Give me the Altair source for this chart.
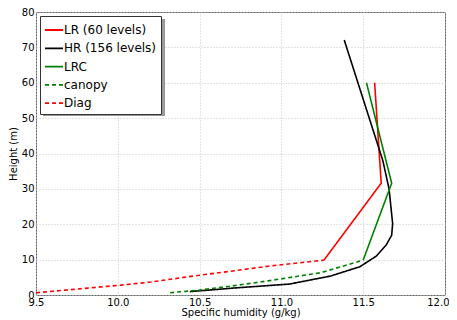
import altair as alt
import pandas as pd

series_names = ["LR (60 levels)", "HR (156 levels)", "LRC", "canopy", "Diag"]
series_colors = ["#ff0000", "#000000", "#008000", "#008000", "#ff0000"]
series_dash = [[1, 0], [1, 0], [1, 0], [4, 3], [4, 3]]

lr_q = [11.57, 11.61, 11.26]
lr_z = [60.0, 31.6, 9.86]

hr_q = [10.44, 10.69, 10.93, 11.05, 11.30, 11.48, 11.58, 11.64, 11.674, 11.68, 11.658, 11.62, 11.384]
hr_z = [0.95, 1.9, 2.7, 3.1, 5.35, 8.0, 11.0, 14.1, 16.9, 20.2, 30.0, 38.0, 72.1]

lrc_q = [11.52, 11.674, 11.50]
lrc_z = [60.0, 31.6, 9.86]

canopy_q = [10.32, 10.50, 10.69, 10.92, 11.24, 11.50]
canopy_z = [0.65, 1.4, 2.5, 4.0, 6.3, 9.86]

diag_q = [9.50, 10.0, 10.20, 10.50, 10.67, 10.93, 11.26]
diag_z = [0.65, 2.7, 3.66, 5.6, 6.6, 8.2, 9.86]

x_ticks = [9.5, 10.0, 10.5, 11.0, 11.5, 12.0]
y_ticks = [0, 10, 20, 30, 40, 50, 60, 70, 80]

rows = []
for name, qs, zs in [
    (series_names[0], lr_q, lr_z),
    (series_names[1], hr_q, hr_z),
    (series_names[2], lrc_q, lrc_z),
    (series_names[3], canopy_q, canopy_z),
    (series_names[4], diag_q, diag_z),
]:
    for i, (q, z) in enumerate(zip(qs, zs)):
        rows.append({"series": name, "q": q, "z": z, "i": i})
df = pd.DataFrame(rows)

FONT = "DejaVu Sans"

legend_kw = dict(title=None, orient="none", legendX=4, legendY=4)

lines = alt.Chart(df).mark_line(strokeWidth=1.6, clip=True).encode(
    x=alt.X("q:Q", scale=alt.Scale(domain=[9.5, 12.0], nice=False),
            axis=alt.Axis(title="Specific humidity (g/kg)", values=x_ticks, format=".1f",
                          labelFlush=False,
                          labelAlign={"condition": {"test": "datum.value >= 12", "value": "right"},
                                      "value": "center"},
                          labelOffset={"condition": {"test": "datum.value >= 12", "value": 4},
                                       "value": 0})),
    y=alt.Y("z:Q", scale=alt.Scale(domain=[0, 80], nice=False),
            axis=alt.Axis(title="Height (m)", values=y_ticks, format="d", titleX=-18)),
    color=alt.Color("series:N", scale=alt.Scale(domain=series_names, range=series_colors),
                    legend=alt.Legend(**legend_kw)),
    strokeDash=alt.StrokeDash("series:N", scale=alt.Scale(domain=series_names, range=series_dash),
                              legend=alt.Legend(**legend_kw)),
    order="i:Q",
    detail="series:N",
)

shadow = alt.Chart(pd.DataFrame({"a": [0]})).mark_rect(color="#999999").encode(
    x=alt.value(7), x2=alt.value(129), y=alt.value(7), y2=alt.value(104)
)

chart = alt.layer(shadow, lines).properties(
    width=409, height=283,
    autosize=alt.AutoSizeParams(type="none"),
    padding={"left": 28, "top": 4, "right": 4, "bottom": 25},
    background="white",
).configure_view(stroke="#666666", strokeWidth=1).configure_axis(
    labelFont=FONT, titleFont=FONT, labelFontSize=10, titleFontSize=10,
    labelColor="black", titleColor="black", titleFontWeight="normal",
    grid=True, gridColor="#c8c8c8", gridDash=[1, 2], gridWidth=1,
    ticks=False, domain=False, labelPadding=2, titlePadding=0,
).configure_legend(
    labelFont=FONT, labelFontSize=12, labelColor="black",
    symbolType="stroke", symbolSize=324, symbolStrokeWidth=1.8,
    fillColor="white", strokeColor="#333333", padding=4, rowPadding=2.3,
    labelOffset=0, cornerRadius=0,
)

chart.save("out.html", embed_options={"renderer": "svg", "actions": False})
